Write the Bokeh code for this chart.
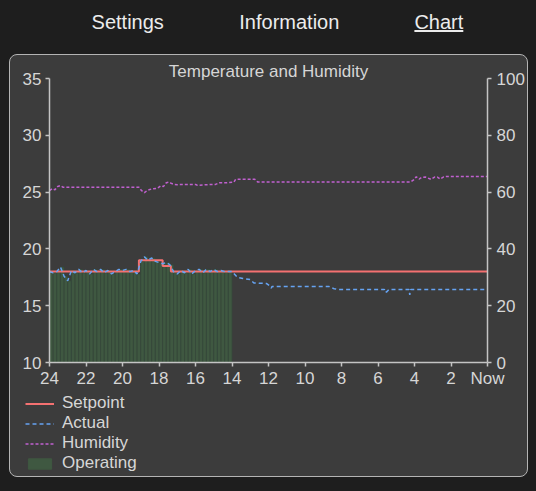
from bokeh.plotting import figure
from bokeh.layouts import column
from bokeh.models import (Range1d, LinearAxis, FixedTicker, Legend, LegendItem,
                          Div, GlobalInlineStyleSheet)
from bokeh.embed import file_html
from bokeh.resources import INLINE

FONT = "Liberation Sans"

# ---------------- data ----------------
nav_labels = ["Settings", "Information", "Chart"]
title_text = "Temperature and Humidity"
legend_labels = ["Setpoint", "Actual", "Humidity", "Operating"]

x_ticks = [24, 22, 20, 18, 16, 14, 12, 10, 8, 6, 4, 2, 0]
x_tick_labels = ["24", "22", "20", "18", "16", "14", "12", "10", "8", "6", "4", "2", "Now"]
temp_ticks = [10, 15, 20, 25, 30, 35]
hum_ticks = [0, 20, 40, 60, 80, 100]

setpoint_hours = [24, 19.1, 17.8, 17.35, 0]
setpoint_vals = [18, 19, 18.5, 18, 18]

actual_hours = [24.0, 23.8, 23.6, 23.4, 23.2, 23.0, 22.8, 22.6, 22.4, 22.2,
                22.0, 21.8, 21.6, 21.4, 21.2, 21.0, 20.8, 20.6, 20.4, 20.2,
                20.0, 19.8, 19.6, 19.4, 19.2, 19.0, 18.8, 18.6, 18.4, 18.2,
                18.0, 17.8, 17.6, 17.4, 17.2, 17.0, 16.8, 16.6, 16.4, 16.2,
                16.0, 15.8, 15.6, 15.4, 15.2, 15.0, 14.8, 14.6, 14.4, 14.2,
                14.0, 13.7, 13.4, 13.0, 12.8, 12.1, 11.9, 11.85, 11.8, 8.7,
                8.6, 8.4, 8.2, 5.65, 5.6, 5.5, 5.4, 4.3, 4.26, 4.2, 0.0]
actual_vals = [18.0, 17.9, 18.0, 18.4, 17.6, 17.2, 18.1, 17.9, 18.2, 17.9,
               18.1, 17.8, 18.2, 18.0, 18.2, 17.9, 18.1, 17.8, 18.0, 18.2,
               18.1, 18.2, 18.0, 18.1, 17.8, 18.9, 19.3, 19.0, 19.2, 18.9,
               18.8, 18.7, 18.8, 18.6, 18.0, 17.8, 18.1, 17.9, 18.2, 17.8,
               18.1, 18.2, 17.9, 18.2, 18.0, 18.2, 18.0, 18.1, 18.0, 18.0,
               18.0, 17.5, 17.4, 17.3, 17.0, 16.95, 16.7, 16.55, 16.7, 16.7,
               16.6, 16.5, 16.43, 16.43, 16.15, 16.25, 16.43, 16.43, 15.95, 16.43, 16.43]
operating = [1] * 50 + [0] * 21

humidity_hours = [24.0, 23.85, 23.7, 23.55, 23.4, 23.25, 23.0, 19.1, 18.95, 18.8,
                  18.7, 18.55, 18.35, 18.1, 17.9, 17.75, 17.6, 17.45, 17.3, 17.15,
                  17.0, 16.9, 16.0, 15.9, 15.4, 14.9, 14.7, 14.3, 13.9, 13.8,
                  12.75, 12.6, 4.2, 4.05, 3.9, 3.75, 3.6, 3.4, 3.1, 2.9,
                  2.75, 2.6, 2.4, 2.2, 0.0]
humidity_vals = [60.5, 61.2, 60.8, 62.0, 62.3, 61.7, 61.7, 61.7, 60.5, 59.8,
                 60.3, 60.8, 61.2, 61.3, 62.2, 62.0, 63.3, 63.5, 63.0, 62.7,
                 62.6, 62.7, 62.7, 62.4, 62.6, 62.7, 63.3, 63.3, 63.5, 64.5,
                 64.5, 63.6, 63.6, 64.3, 65.4, 64.6, 65.2, 65.3, 64.5, 65.3,
                 65.3, 64.6, 65.4, 65.5, 65.5]

# bars of operating periods: each sample spans the interval ending at it
op_x = [h - 0.1 for h, o in zip(actual_hours, operating) if o]
op_top = [v for v, o in zip(actual_vals, operating) if o]

BG = "#1e1e1e"
PANEL = "#3c3c3c"
AX = "#c4c4c4"
TXT = "#d6d6d6"
SP_COLOR, ACT_COLOR, HUM_COLOR = "#f47171", "#66a3f2", "#c060cf"
OP_FILL, OP_LINE = "#3f5841", "#35473a"

# ---------------- navigation ----------------
nav_left = [91.6, 239.3, 414.4]
spans = []
for i, (t, x) in enumerate(zip(nav_labels, nav_left)):
    deco = "underline" if i == len(nav_labels) - 1 else "none"
    spans.append(
        f'<span style="position:absolute;left:{x}px;top:11px;line-height:23px;'
        f'text-decoration:{deco};white-space:nowrap">{t}</span>')
nav_html = ('<div style="position:relative;width:536px;height:54px;'
            f'font-family:\'{FONT}\';font-size:20px;color:#ececec;">'
            + "".join(spans) + "</div>")
nav = Div(text=nav_html, width=536, height=54, margin=0)

# ---------------- chart figure ----------------
p = figure(width=517, height=335, output_backend="svg", toolbar_location=None,
           x_range=Range1d(24, 0), y_range=Range1d(10, 35),
           min_border_left=39, min_border_right=39, min_border_top=23,
           min_border_bottom=28)
p.border_fill_alpha = 0
p.background_fill_alpha = 0
p.outline_line_color = None
p.xgrid.visible = False
p.ygrid.visible = False
p.extra_y_ranges = {"hum": Range1d(0, 100)}

p.title.text = title_text
p.title.align = "center"
p.title.text_font = FONT
p.title.text_font_size = "17px"
p.title.text_font_style = "normal"
p.title.text_color = TXT
p.title.standoff = -5

p.vbar(x=op_x, top=op_top, bottom=10, width=0.2,
       fill_color=OP_FILL, line_color=OP_LINE, line_width=0.8)
p.step(setpoint_hours, setpoint_vals, mode="after",
       line_color=SP_COLOR, line_width=2)
p.line(actual_hours, actual_vals, line_color=ACT_COLOR, line_width=1.5,
       line_dash="4 3")
p.line(humidity_hours, humidity_vals, line_color=HUM_COLOR, line_width=1.5,
       line_dash="3 2", y_range_name="hum")

def style_axis(ax):
    ax.axis_line_color = AX
    ax.axis_line_width = 1.5
    ax.major_tick_line_color = AX
    ax.major_tick_line_width = 1.5
    ax.major_tick_in = 0
    ax.major_tick_out = 4
    ax.minor_tick_line_color = None
    ax.major_label_text_font = FONT
    ax.major_label_text_font_size = "17px"
    ax.major_label_text_color = TXT

p.xaxis.ticker = FixedTicker(ticks=x_ticks)
p.xaxis.major_label_overrides = {t: l for t, l in zip(x_ticks, x_tick_labels)}
p.xaxis.major_label_standoff = 2
style_axis(p.xaxis[0])

p.yaxis.ticker = FixedTicker(ticks=temp_ticks)
p.yaxis.major_label_standoff = 4
style_axis(p.yaxis[0])

ry = LinearAxis(y_range_name="hum", ticker=FixedTicker(ticks=hum_ticks))
style_axis(ry)
ry.major_label_standoff = 5
p.add_layout(ry, "right")

# ---------------- legend figure (legend swatches only) ----------------
lg = figure(width=517, height=86, output_backend="svg", toolbar_location=None,
            x_range=Range1d(0, 1), y_range=Range1d(0, 1),
            min_border=0, x_axis_type=None, y_axis_type=None)
lg.border_fill_alpha = 0
lg.background_fill_alpha = 0
lg.outline_line_color = None
lg.grid.visible = False
# proxy renderers whose only point lies outside the legend figure's ranges
r_sp = lg.line(x=[5], y=[5], line_color=SP_COLOR, line_width=2)
r_act = lg.line(x=[5], y=[5], line_color=ACT_COLOR, line_width=1.5, line_dash="4 3")
r_hum = lg.line(x=[5], y=[5], line_color=HUM_COLOR, line_width=1.5, line_dash="3 2")
r_op = lg.vbar(x=[5], top=[5], bottom=4, width=0.1, fill_color=OP_FILL, line_color=OP_FILL)
legend = Legend(items=[LegendItem(label=l, renderers=[r]) for l, r in
                       zip(legend_labels, [r_sp, r_act, r_hum, r_op])],
                location=(15, 3), orientation="vertical",
                glyph_width=29, glyph_height=13, label_standoff=8,
                spacing=0, padding=0, margin=0, label_height=20,
                border_line_alpha=0, background_fill_alpha=0,
                label_text_font=FONT, label_text_font_size="17px",
                label_text_color=TXT)
lg.add_layout(legend)

# the legend strip must not be aligned to the chart's frame
for fig in (p, lg):
    if "frame_align" in fig.properties():
        fig.frame_align = False

panel = column(p, lg, spacing=0, margin=(0, 0, 0, 9),
               styles={"border": "1px solid #b4b4b4", "border-radius": "8px",
                       "background-color": PANEL})

layout = column(nav, panel, spacing=0, margin=0)
layout.stylesheets = [GlobalInlineStyleSheet(css="html,body{background:#1e1e1e;}")]

open("out.html", "w").write(file_html(layout, INLINE))
